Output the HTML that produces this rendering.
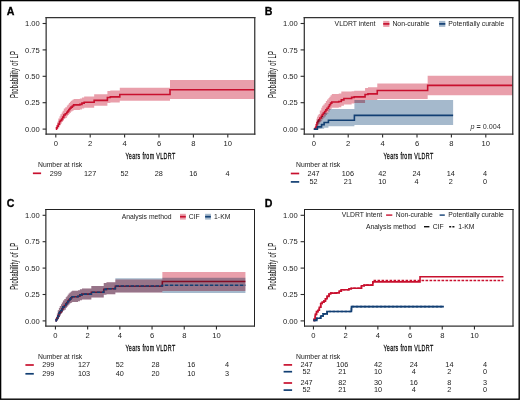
<!DOCTYPE html><html><head><meta charset="utf-8"><style>html,body{margin:0;padding:0;background:#fff;}svg{display:block;will-change:transform;}text{font-family:"Liberation Sans", sans-serif;}</style></head><body>
<svg width="520" height="400" viewBox="0 0 520 400">
<defs><clipPath id="clip0"><rect x="46.15" y="17.75" width="208.60" height="116.50"/></clipPath><clipPath id="clip1"><rect x="304.15" y="17.75" width="208.60" height="116.50"/></clipPath><clipPath id="clip2"><rect x="46.15" y="209.55" width="208.60" height="116.50"/></clipPath><clipPath id="clip3"><rect x="304.15" y="209.55" width="208.60" height="116.50"/></clipPath></defs>
<rect x="0" y="0" width="520" height="400" fill="#fff"/>
<g clip-path="url(#clip0)">
<path d="M55.80,129.10H56.49V124.88H57.35V121.71H58.29V118.54H59.50V116.22H60.44V114.32H61.70V112.52H62.68V110.73H63.80V108.61H65.26V107.14H66.81V105.45H67.84V104.39H68.87V102.91H69.90V101.64H71.00V100.80H72.31V99.74H73.60V99.00H79.88V98.48H81.94V97.42H84.18V96.58H94.16V94.25H107.40V91.08H110.32V90.45H119.78V87.70H170.01V80.10H258.76V99.11H170.01V100.80H119.78V102.49H110.32V103.02H107.40V105.66H94.16V107.66H84.18V108.40H81.94V109.56H79.88V110.09H73.60V110.83H72.31V111.57H71.00V112.73H69.90V113.79H68.87V114.95H67.84V116.22H66.81V117.91H65.26V119.07H63.80V120.65H62.68V121.92H61.70V123.82H60.44V125.40H59.50V127.52H58.29V128.57H57.35V129.10H56.49V129.10H55.80Z" fill="#c8102e" fill-opacity="0.40"/>
<path d="M55.80,129.10H56.49V127.83H57.35V126.14H58.29V124.14H59.50V121.50H60.44V120.34H61.70V118.96H62.68V117.17H63.80V115.06H65.26V113.68H66.81V112.20H67.84V110.94H68.87V109.56H69.90V108.30H71.00V107.14H72.31V105.97H73.60V104.92H79.88V104.39H81.94V103.12H84.18V102.28H94.16V100.38H107.40V97.53H110.32V96.89H119.78V94.46H170.01V89.71H258.76" fill="none" stroke="#c8102e" stroke-width="1.6"/>
</g>
<g transform="translate(0.00,0.00)">
<text x="6.7" y="14.9" font-size="10.6" font-weight="bold" fill="#000" stroke="#000" stroke-width="0.3">A</text>
<line x1="46.15" x2="46.15" y1="17.07" y2="134.82" stroke="#333" stroke-width="1.25"/>
<line x1="254.75" x2="254.75" y1="17.07" y2="134.82" stroke="#333" stroke-width="1.25"/>
<line x1="45.52" x2="255.38" y1="17.70" y2="17.70" stroke="#333" stroke-width="1.25"/>
<line x1="45.52" x2="255.38" y1="134.20" y2="134.20" stroke="#333" stroke-width="1.25"/>
<line x1="42.6" x2="46.15" y1="129.10" y2="129.10" stroke="#2b2b2b" stroke-width="1.1"/>
<text x="39.70" y="131.80" font-size="7.60" text-anchor="end" fill="#222" >0.00</text>
<line x1="42.6" x2="46.15" y1="102.70" y2="102.70" stroke="#2b2b2b" stroke-width="1.1"/>
<text x="39.70" y="105.40" font-size="7.60" text-anchor="end" fill="#222" >0.25</text>
<line x1="42.6" x2="46.15" y1="76.30" y2="76.30" stroke="#2b2b2b" stroke-width="1.1"/>
<text x="39.70" y="79.00" font-size="7.60" text-anchor="end" fill="#222" >0.50</text>
<line x1="42.6" x2="46.15" y1="49.90" y2="49.90" stroke="#2b2b2b" stroke-width="1.1"/>
<text x="39.70" y="52.60" font-size="7.60" text-anchor="end" fill="#222" >0.75</text>
<line x1="42.6" x2="46.15" y1="23.50" y2="23.50" stroke="#2b2b2b" stroke-width="1.1"/>
<text x="39.70" y="26.20" font-size="7.60" text-anchor="end" fill="#222" >1.00</text>
<line x1="55.80" x2="55.80" y1="134.20" y2="137.6" stroke="#2b2b2b" stroke-width="1.1"/>
<text x="55.80" y="146.00" font-size="7.60" text-anchor="middle" fill="#222" >0</text>
<line x1="90.20" x2="90.20" y1="134.20" y2="137.6" stroke="#2b2b2b" stroke-width="1.1"/>
<text x="90.20" y="146.00" font-size="7.60" text-anchor="middle" fill="#222" >2</text>
<line x1="124.60" x2="124.60" y1="134.20" y2="137.6" stroke="#2b2b2b" stroke-width="1.1"/>
<text x="124.60" y="146.00" font-size="7.60" text-anchor="middle" fill="#222" >4</text>
<line x1="159.00" x2="159.00" y1="134.20" y2="137.6" stroke="#2b2b2b" stroke-width="1.1"/>
<text x="159.00" y="146.00" font-size="7.60" text-anchor="middle" fill="#222" >6</text>
<line x1="193.40" x2="193.40" y1="134.20" y2="137.6" stroke="#2b2b2b" stroke-width="1.1"/>
<text x="193.40" y="146.00" font-size="7.60" text-anchor="middle" fill="#222" >8</text>
<line x1="227.80" x2="227.80" y1="134.20" y2="137.6" stroke="#2b2b2b" stroke-width="1.1"/>
<text x="227.80" y="146.00" font-size="7.60" text-anchor="middle" fill="#222" >10</text>
<g transform="translate(150.45,158.7) scale(0.56,1)"><text x="0" y="0" font-size="9.6" text-anchor="middle" fill="#0a0a0a" stroke="#0a0a0a" stroke-width="0.28" letter-spacing="0.6">Years from VLDRT</text></g>
<g transform="translate(17.8,74.4) rotate(-90) scale(0.555,1)"><text x="0" y="0" font-size="10.3" text-anchor="middle" fill="#1a1a1a" stroke="#1a1a1a" stroke-width="0.12" letter-spacing="0.6">Probability of LP</text></g>
</g>
<g clip-path="url(#clip1)">
<path d="M313.80,129.10H315.18V125.93H315.66V123.82H316.38V118.86H316.96V116.74H317.76V115.37H318.67V113.89H319.82V110.41H321.26V107.77H322.23V105.87H323.36V104.39H324.64V102.91H325.86V101.12H327.04V99.53H328.45V98.05H329.45V96.68H330.55V95.31H331.81V94.04H338.74V93.41H341.32V91.51H343.90V91.51H351.64V91.30H354.22V90.77H365.06V87.92H367.98V87.18H377.27V83.48H427.66V75.77H516.76V95.31H427.66V99.00H377.27V99.95H367.98V99.95H365.06V102.91H354.22V103.44H351.64V104.39H343.90V105.66H341.32V107.24H338.74V107.66H331.81V108.72H330.55V110.09H329.45V111.68H328.45V113.47H327.04V115.06H325.86V116.43H324.64V117.70H323.36V119.17H322.23V120.65H321.26V122.24H319.82V123.82H318.67V125.19H317.76V126.46H316.96V128.04H316.38V129.10H315.66V129.10H315.18V129.10H313.80Z" fill="#c8102e" fill-opacity="0.40"/>
<path d="M313.80,129.10H315.18V128.26H315.66V127.30H316.38V124.88H316.96V122.66H317.76V121.18H318.67V119.70H319.82V118.01H321.26V116.32H322.23V114.63H323.36V112.94H324.64V111.46H325.86V109.88H327.04V108.19H328.45V106.50H329.45V104.81H330.55V103.12H331.81V102.07H338.74V101.43H341.32V99.85H343.90V98.48H351.64V97.42H354.22V96.89H365.06V94.46H367.98V93.83H377.27V90.56H427.66V85.38H516.76" fill="none" stroke="#c8102e" stroke-width="1.6"/>
<path d="M313.80,129.10H317.41V119.60H321.54V115.90H324.12V112.73H328.42V109.04H354.39V99.95H453.12V125.09H354.39V126.14H328.42V127.83H324.12V128.68H321.54V129.10H317.41V129.10H313.80Z" fill="#1d4f80" fill-opacity="0.40" style="mix-blend-mode:multiply"/>
<path d="M313.80,129.10H317.41V126.88H321.54V124.66H324.12V122.55H328.42V120.23H354.39V115.37H453.12" fill="none" stroke="#123f73" stroke-width="1.6"/>
</g>
<g transform="translate(258.00,0.00)">
<text x="6.7" y="14.9" font-size="10.6" font-weight="bold" fill="#000" stroke="#000" stroke-width="0.3">B</text>
<line x1="46.30" x2="46.30" y1="17.07" y2="134.82" stroke="#333" stroke-width="1.25"/>
<line x1="254.75" x2="254.75" y1="17.07" y2="134.82" stroke="#333" stroke-width="1.25"/>
<line x1="45.67" x2="255.38" y1="17.70" y2="17.70" stroke="#333" stroke-width="1.25"/>
<line x1="45.67" x2="255.38" y1="134.20" y2="134.20" stroke="#333" stroke-width="1.25"/>
<line x1="42.6" x2="46.30" y1="129.10" y2="129.10" stroke="#2b2b2b" stroke-width="1.1"/>
<text x="39.70" y="131.80" font-size="7.60" text-anchor="end" fill="#222" >0.00</text>
<line x1="42.6" x2="46.30" y1="102.70" y2="102.70" stroke="#2b2b2b" stroke-width="1.1"/>
<text x="39.70" y="105.40" font-size="7.60" text-anchor="end" fill="#222" >0.25</text>
<line x1="42.6" x2="46.30" y1="76.30" y2="76.30" stroke="#2b2b2b" stroke-width="1.1"/>
<text x="39.70" y="79.00" font-size="7.60" text-anchor="end" fill="#222" >0.50</text>
<line x1="42.6" x2="46.30" y1="49.90" y2="49.90" stroke="#2b2b2b" stroke-width="1.1"/>
<text x="39.70" y="52.60" font-size="7.60" text-anchor="end" fill="#222" >0.75</text>
<line x1="42.6" x2="46.30" y1="23.50" y2="23.50" stroke="#2b2b2b" stroke-width="1.1"/>
<text x="39.70" y="26.20" font-size="7.60" text-anchor="end" fill="#222" >1.00</text>
<line x1="55.80" x2="55.80" y1="134.20" y2="137.6" stroke="#2b2b2b" stroke-width="1.1"/>
<text x="55.80" y="146.00" font-size="7.60" text-anchor="middle" fill="#222" >0</text>
<line x1="90.20" x2="90.20" y1="134.20" y2="137.6" stroke="#2b2b2b" stroke-width="1.1"/>
<text x="90.20" y="146.00" font-size="7.60" text-anchor="middle" fill="#222" >2</text>
<line x1="124.60" x2="124.60" y1="134.20" y2="137.6" stroke="#2b2b2b" stroke-width="1.1"/>
<text x="124.60" y="146.00" font-size="7.60" text-anchor="middle" fill="#222" >4</text>
<line x1="159.00" x2="159.00" y1="134.20" y2="137.6" stroke="#2b2b2b" stroke-width="1.1"/>
<text x="159.00" y="146.00" font-size="7.60" text-anchor="middle" fill="#222" >6</text>
<line x1="193.40" x2="193.40" y1="134.20" y2="137.6" stroke="#2b2b2b" stroke-width="1.1"/>
<text x="193.40" y="146.00" font-size="7.60" text-anchor="middle" fill="#222" >8</text>
<line x1="227.80" x2="227.80" y1="134.20" y2="137.6" stroke="#2b2b2b" stroke-width="1.1"/>
<text x="227.80" y="146.00" font-size="7.60" text-anchor="middle" fill="#222" >10</text>
<g transform="translate(150.45,158.7) scale(0.56,1)"><text x="0" y="0" font-size="9.6" text-anchor="middle" fill="#0a0a0a" stroke="#0a0a0a" stroke-width="0.28" letter-spacing="0.6">Years from VLDRT</text></g>
<g transform="translate(17.8,74.4) rotate(-90) scale(0.555,1)"><text x="0" y="0" font-size="10.3" text-anchor="middle" fill="#1a1a1a" stroke="#1a1a1a" stroke-width="0.12" letter-spacing="0.6">Probability of LP</text></g>
</g>
<g transform="translate(258.00,0)">
<text x="76.60" y="26.20" font-size="6.85" text-anchor="start" fill="#1a1a1a" >VLDRT intent</text>
<rect x="125.2" y="20.9" width="6.2" height="6" fill="#c8102e" fill-opacity="0.40"/>
<line x1="125.2" x2="131.4" y1="23.9" y2="23.9" stroke="#c8102e" stroke-width="1.7"/>
<text x="134.40" y="26.20" font-size="6.85" text-anchor="start" fill="#1a1a1a" >Non-curable</text>
<rect x="181.1" y="20.9" width="6.2" height="6" fill="#1d4f80" fill-opacity="0.40"/>
<line x1="181.1" x2="187.3" y1="23.9" y2="23.9" stroke="#123f73" stroke-width="1.7"/>
<text x="190.30" y="26.20" font-size="6.85" text-anchor="start" fill="#1a1a1a" >Potentially curable</text>
<text x="242.8" y="128.9" font-size="7.2" text-anchor="end" fill="#333"><tspan font-style="italic">p</tspan> <tspan font-weight="bold">=</tspan> 0.004</text>
</g>
<g clip-path="url(#clip2)">
<path d="M55.45,320.90H56.09V316.68H56.90V313.51H57.78V310.34H58.91V308.02H59.80V306.12H60.97V304.32H61.89V302.53H62.94V300.41H64.31V298.94H65.75V297.25H66.72V296.19H67.69V294.71H68.65V293.44H69.68V292.60H70.91V291.54H72.11V290.80H77.99V290.28H79.92V289.22H82.02V288.38H91.35V286.05H103.75V282.88H106.49V282.25H115.34V279.50H162.35V271.90H245.43V290.91H162.35V292.60H115.34V294.29H106.49V294.82H103.75V297.46H91.35V299.46H82.02V300.20H79.92V301.36H77.99V301.89H72.11V302.63H70.91V303.37H69.68V304.53H68.65V305.59H67.69V306.75H66.72V308.02H65.75V309.71H64.31V310.87H62.94V312.45H61.89V313.72H60.97V315.62H59.80V317.20H58.91V319.32H57.78V320.37H56.90V320.90H56.09V320.90H55.45Z" fill="#c8102e" fill-opacity="0.40"/>
<path d="M55.45,320.90H56.09V319.63H56.90V317.94H57.78V315.94H58.91V313.30H59.80V312.14H60.97V310.76H61.89V308.97H62.94V306.86H64.31V305.48H65.75V304.00H66.72V302.74H67.69V301.36H68.65V300.10H69.68V298.94H70.91V297.77H72.11V296.72H77.99V296.19H79.92V294.92H82.02V294.08H91.35V292.18H103.75V289.33H106.49V288.69H115.34V286.26H162.35V281.51H245.43" fill="none" stroke="#c8102e" stroke-width="1.6"/>
<path d="M55.45,320.90H56.09V316.68H56.90V313.51H57.78V310.34H58.91V308.02H59.80V306.12H60.97V304.32H61.89V302.53H62.94V300.41H64.31V298.94H65.75V297.25H66.72V296.19H67.69V294.71H68.65V293.44H69.68V292.60H70.91V291.54H72.11V290.80H77.99V290.28H79.92V289.22H82.02V288.38H91.35V286.05H103.75V282.88H106.49V282.25H115.34V278.24H162.35V277.82H245.43V293.02H162.35V292.60H115.34V294.29H106.49V294.82H103.75V297.46H91.35V299.46H82.02V300.20H79.92V301.36H77.99V301.89H72.11V302.63H70.91V303.37H69.68V304.53H68.65V305.59H67.69V306.75H66.72V308.02H65.75V309.71H64.31V310.87H62.94V312.45H61.89V313.72H60.97V315.62H59.80V317.20H58.91V319.32H57.78V320.37H56.90V320.90H56.09V320.90H55.45Z" fill="#1d4f80" fill-opacity="0.40" style="mix-blend-mode:multiply"/>
<path d="M55.45,320.90H56.09V319.63H56.90V317.94H57.78V315.94H58.91V313.30H59.80V312.14H60.97V310.76H61.89V308.97H62.94V306.86H64.31V305.48H65.75V304.00H66.72V302.74H67.69V301.36H68.65V300.10H69.68V298.94H70.91V297.77H72.11V296.72H77.99V296.19H79.92V294.92H82.02V294.08H91.35V292.18H103.75V289.33H106.49V288.69H115.34V285.95H162.35V285.21H245.43" fill="none" stroke="#123f73" stroke-width="1.6" stroke-dasharray="3.6,1.4"/>
</g>
<g transform="translate(0.00,191.80)">
<text x="6.7" y="14.9" font-size="10.6" font-weight="bold" fill="#000" stroke="#000" stroke-width="0.3">C</text>
<line x1="45.85" x2="45.85" y1="17.20" y2="134.82" stroke="#333" stroke-width="1.25"/>
<line x1="254.50" x2="254.50" y1="17.20" y2="134.82" stroke="#222" stroke-width="1.00"/>
<line x1="45.23" x2="255.00" y1="17.70" y2="17.70" stroke="#222" stroke-width="1.00"/>
<line x1="45.23" x2="255.00" y1="134.20" y2="134.20" stroke="#333" stroke-width="1.25"/>
<line x1="42.6" x2="45.85" y1="129.10" y2="129.10" stroke="#2b2b2b" stroke-width="1.1"/>
<text x="39.70" y="131.80" font-size="7.60" text-anchor="end" fill="#222" >0.00</text>
<line x1="42.6" x2="45.85" y1="102.70" y2="102.70" stroke="#2b2b2b" stroke-width="1.1"/>
<text x="39.70" y="105.40" font-size="7.60" text-anchor="end" fill="#222" >0.25</text>
<line x1="42.6" x2="45.85" y1="76.30" y2="76.30" stroke="#2b2b2b" stroke-width="1.1"/>
<text x="39.70" y="79.00" font-size="7.60" text-anchor="end" fill="#222" >0.50</text>
<line x1="42.6" x2="45.85" y1="49.90" y2="49.90" stroke="#2b2b2b" stroke-width="1.1"/>
<text x="39.70" y="52.60" font-size="7.60" text-anchor="end" fill="#222" >0.75</text>
<line x1="42.6" x2="45.85" y1="23.50" y2="23.50" stroke="#2b2b2b" stroke-width="1.1"/>
<text x="39.70" y="26.20" font-size="7.60" text-anchor="end" fill="#222" >1.00</text>
<line x1="55.45" x2="55.45" y1="134.20" y2="137.6" stroke="#2b2b2b" stroke-width="1.1"/>
<text x="55.45" y="146.00" font-size="7.60" text-anchor="middle" fill="#222" >0</text>
<line x1="87.65" x2="87.65" y1="134.20" y2="137.6" stroke="#2b2b2b" stroke-width="1.1"/>
<text x="87.65" y="146.00" font-size="7.60" text-anchor="middle" fill="#222" >2</text>
<line x1="119.85" x2="119.85" y1="134.20" y2="137.6" stroke="#2b2b2b" stroke-width="1.1"/>
<text x="119.85" y="146.00" font-size="7.60" text-anchor="middle" fill="#222" >4</text>
<line x1="152.05" x2="152.05" y1="134.20" y2="137.6" stroke="#2b2b2b" stroke-width="1.1"/>
<text x="152.05" y="146.00" font-size="7.60" text-anchor="middle" fill="#222" >6</text>
<line x1="184.25" x2="184.25" y1="134.20" y2="137.6" stroke="#2b2b2b" stroke-width="1.1"/>
<text x="184.25" y="146.00" font-size="7.60" text-anchor="middle" fill="#222" >8</text>
<line x1="216.45" x2="216.45" y1="134.20" y2="137.6" stroke="#2b2b2b" stroke-width="1.1"/>
<text x="216.45" y="146.00" font-size="7.60" text-anchor="middle" fill="#222" >10</text>
<g transform="translate(150.45,158.7) scale(0.56,1)"><text x="0" y="0" font-size="9.6" text-anchor="middle" fill="#0a0a0a" stroke="#0a0a0a" stroke-width="0.28" letter-spacing="0.6">Years from VLDRT</text></g>
<g transform="translate(17.8,74.4) rotate(-90) scale(0.555,1)"><text x="0" y="0" font-size="10.3" text-anchor="middle" fill="#1a1a1a" stroke="#1a1a1a" stroke-width="0.12" letter-spacing="0.6">Probability of LP</text></g>
</g>
<g transform="translate(0,191.80)">
<text x="121.70" y="27.10" font-size="6.80" text-anchor="start" fill="#1a1a1a" >Analysis method</text>
<rect x="180.0" y="22.0" width="5.8" height="5.8" fill="#c8102e" fill-opacity="0.40"/>
<line x1="180.0" x2="185.8" y1="24.9" y2="24.9" stroke="#c8102e" stroke-width="1.7"/>
<text x="188.80" y="27.10" font-size="6.80" text-anchor="start" fill="#1a1a1a" >CIF</text>
<rect x="205.1" y="22.0" width="5.8" height="5.8" fill="#1d4f80" fill-opacity="0.40"/>
<line x1="205.1" x2="210.9" y1="24.9" y2="24.9" stroke="#123f73" stroke-width="1.7"/>
<text x="214.10" y="27.10" font-size="6.80" text-anchor="start" fill="#1a1a1a" >1-KM</text>
</g>
<g clip-path="url(#clip3)">
<path d="M313.45,320.40H314.12V319.20H315.25V314.40H316.45V311.60H317.90V310.20H319.30V307.30H320.70V303.50H322.15V302.10H323.85V301.10H325.50V298.80H327.15V296.40H329.05V294.00H330.70V293.10H336.80V292.73H339.21V291.15H341.30V289.78H348.87V288.72H351.28V288.19H361.43V285.76H364.16V285.13H372.86V281.86H420.03V276.68H503.43" fill="none" stroke="#c8102e" stroke-width="1.6"/>
<path d="M313.45,320.40H314.12V319.20H315.25V314.40H316.45V311.60H317.90V310.20H319.30V307.30H320.70V303.50H322.15V302.10H323.85V301.10H325.50V298.80H327.15V296.40H329.05V294.00H330.70V293.10H336.80V292.73H339.21V291.15H341.30V289.78H348.87V288.72H351.28V288.19H361.43V285.76H364.16V285.13H372.86V280.48H503.43" fill="none" stroke="#c8102e" stroke-width="1.6" stroke-dasharray="2.6,1.4"/>
<path d="M313.45,320.40H316.83V318.18H320.69V315.96H323.11V313.85H327.13V311.53H351.45V306.67H443.86" fill="none" stroke="#123f73" stroke-width="1.6"/>
<path d="M313.45,320.40H316.83V318.18H320.69V315.96H323.11V313.85H327.13V311.53H351.45V306.67H443.86" fill="none" stroke="#123f73" stroke-width="1.6" stroke-dasharray="2.6,1.4"/>
</g>
<g transform="translate(258.00,191.80)">
<text x="6.7" y="14.9" font-size="10.6" font-weight="bold" fill="#000" stroke="#000" stroke-width="0.3">D</text>
<line x1="46.50" x2="46.50" y1="17.20" y2="134.82" stroke="#222" stroke-width="1.00"/>
<line x1="255.00" x2="255.00" y1="17.20" y2="134.82" stroke="#333" stroke-width="1.25"/>
<line x1="46.00" x2="255.62" y1="17.70" y2="17.70" stroke="#222" stroke-width="1.00"/>
<line x1="46.00" x2="255.62" y1="134.20" y2="134.20" stroke="#333" stroke-width="1.25"/>
<line x1="42.6" x2="46.50" y1="129.10" y2="129.10" stroke="#2b2b2b" stroke-width="1.1"/>
<text x="39.70" y="131.80" font-size="7.60" text-anchor="end" fill="#222" >0.00</text>
<line x1="42.6" x2="46.50" y1="102.70" y2="102.70" stroke="#2b2b2b" stroke-width="1.1"/>
<text x="39.70" y="105.40" font-size="7.60" text-anchor="end" fill="#222" >0.25</text>
<line x1="42.6" x2="46.50" y1="76.30" y2="76.30" stroke="#2b2b2b" stroke-width="1.1"/>
<text x="39.70" y="79.00" font-size="7.60" text-anchor="end" fill="#222" >0.50</text>
<line x1="42.6" x2="46.50" y1="49.90" y2="49.90" stroke="#2b2b2b" stroke-width="1.1"/>
<text x="39.70" y="52.60" font-size="7.60" text-anchor="end" fill="#222" >0.75</text>
<line x1="42.6" x2="46.50" y1="23.50" y2="23.50" stroke="#2b2b2b" stroke-width="1.1"/>
<text x="39.70" y="26.20" font-size="7.60" text-anchor="end" fill="#222" >1.00</text>
<line x1="55.45" x2="55.45" y1="134.20" y2="137.6" stroke="#2b2b2b" stroke-width="1.1"/>
<text x="55.45" y="146.00" font-size="7.60" text-anchor="middle" fill="#222" >0</text>
<line x1="87.65" x2="87.65" y1="134.20" y2="137.6" stroke="#2b2b2b" stroke-width="1.1"/>
<text x="87.65" y="146.00" font-size="7.60" text-anchor="middle" fill="#222" >2</text>
<line x1="119.85" x2="119.85" y1="134.20" y2="137.6" stroke="#2b2b2b" stroke-width="1.1"/>
<text x="119.85" y="146.00" font-size="7.60" text-anchor="middle" fill="#222" >4</text>
<line x1="152.05" x2="152.05" y1="134.20" y2="137.6" stroke="#2b2b2b" stroke-width="1.1"/>
<text x="152.05" y="146.00" font-size="7.60" text-anchor="middle" fill="#222" >6</text>
<line x1="184.25" x2="184.25" y1="134.20" y2="137.6" stroke="#2b2b2b" stroke-width="1.1"/>
<text x="184.25" y="146.00" font-size="7.60" text-anchor="middle" fill="#222" >8</text>
<line x1="216.45" x2="216.45" y1="134.20" y2="137.6" stroke="#2b2b2b" stroke-width="1.1"/>
<text x="216.45" y="146.00" font-size="7.60" text-anchor="middle" fill="#222" >10</text>
<g transform="translate(150.45,158.7) scale(0.56,1)"><text x="0" y="0" font-size="9.6" text-anchor="middle" fill="#0a0a0a" stroke="#0a0a0a" stroke-width="0.28" letter-spacing="0.6">Years from VLDRT</text></g>
<g transform="translate(17.8,74.4) rotate(-90) scale(0.555,1)"><text x="0" y="0" font-size="10.3" text-anchor="middle" fill="#1a1a1a" stroke="#1a1a1a" stroke-width="0.12" letter-spacing="0.6">Probability of LP</text></g>
</g>
<g transform="translate(258.00,191.80)">
<text x="83.70" y="25.40" font-size="6.80" text-anchor="start" fill="#1a1a1a" >VLDRT intent</text>
<line x1="128.1" x2="134.3" y1="23.3" y2="23.3" stroke="#c8102e" stroke-width="1.4"/>
<text x="137.80" y="25.40" font-size="6.80" text-anchor="start" fill="#1a1a1a" >Non-curable</text>
<line x1="181.6" x2="186.8" y1="23.3" y2="23.3" stroke="#123f73" stroke-width="1.4"/>
<text x="190.30" y="25.40" font-size="6.80" text-anchor="start" fill="#1a1a1a" >Potentially curable</text>
<text x="108.00" y="37.00" font-size="6.80" text-anchor="start" fill="#1a1a1a" >Analysis method</text>
<line x1="166.0" x2="171.4" y1="34.9" y2="34.9" stroke="#111" stroke-width="1.4"/>
<text x="174.80" y="37.00" font-size="6.80" text-anchor="start" fill="#1a1a1a" >CIF</text>
<line x1="191.2" x2="196.4" y1="34.9" y2="34.9" stroke="#111" stroke-width="1.4" stroke-dasharray="2,1.2"/>
<text x="200.30" y="37.00" font-size="6.80" text-anchor="start" fill="#1a1a1a" >1-KM</text>
</g>
<text x="38.00" y="166.90" font-size="6.80" text-anchor="start" fill="#1a1a1a" >Number at risk</text>
<line x1="32.90" x2="41.10" y1="173.30" y2="173.30" stroke="#c8102e" stroke-width="1.7"/>
<text x="55.80" y="175.50" font-size="7.30" text-anchor="middle" fill="#222" >299</text>
<text x="90.15" y="175.50" font-size="7.30" text-anchor="middle" fill="#222" >127</text>
<text x="124.50" y="175.50" font-size="7.30" text-anchor="middle" fill="#222" >52</text>
<text x="158.85" y="175.50" font-size="7.30" text-anchor="middle" fill="#222" >28</text>
<text x="193.20" y="175.50" font-size="7.30" text-anchor="middle" fill="#222" >16</text>
<text x="227.55" y="175.50" font-size="7.30" text-anchor="middle" fill="#222" >4</text>
<text x="296.00" y="166.90" font-size="6.80" text-anchor="start" fill="#1a1a1a" >Number at risk</text>
<line x1="290.80" x2="299.20" y1="173.50" y2="173.50" stroke="#c8102e" stroke-width="1.7"/>
<text x="313.60" y="175.70" font-size="7.30" text-anchor="middle" fill="#222" >247</text>
<text x="347.90" y="175.70" font-size="7.30" text-anchor="middle" fill="#222" >106</text>
<text x="382.20" y="175.70" font-size="7.30" text-anchor="middle" fill="#222" >42</text>
<text x="416.50" y="175.70" font-size="7.30" text-anchor="middle" fill="#222" >24</text>
<text x="450.80" y="175.70" font-size="7.30" text-anchor="middle" fill="#222" >14</text>
<text x="485.10" y="175.70" font-size="7.30" text-anchor="middle" fill="#222" >4</text>
<line x1="290.80" x2="299.20" y1="181.90" y2="181.90" stroke="#123f73" stroke-width="1.7"/>
<text x="313.60" y="184.10" font-size="7.30" text-anchor="middle" fill="#222" >52</text>
<text x="347.90" y="184.10" font-size="7.30" text-anchor="middle" fill="#222" >21</text>
<text x="382.20" y="184.10" font-size="7.30" text-anchor="middle" fill="#222" >10</text>
<text x="416.50" y="184.10" font-size="7.30" text-anchor="middle" fill="#222" >4</text>
<text x="450.80" y="184.10" font-size="7.30" text-anchor="middle" fill="#222" >2</text>
<text x="485.10" y="184.10" font-size="7.30" text-anchor="middle" fill="#222" >0</text>
<text x="38.00" y="358.70" font-size="6.80" text-anchor="start" fill="#1a1a1a" >Number at risk</text>
<line x1="25.40" x2="33.80" y1="365.00" y2="365.00" stroke="#c8102e" stroke-width="1.7"/>
<text x="48.30" y="367.20" font-size="7.30" text-anchor="middle" fill="#222" >299</text>
<text x="84.05" y="367.20" font-size="7.30" text-anchor="middle" fill="#222" >127</text>
<text x="119.80" y="367.20" font-size="7.30" text-anchor="middle" fill="#222" >52</text>
<text x="155.55" y="367.20" font-size="7.30" text-anchor="middle" fill="#222" >28</text>
<text x="191.30" y="367.20" font-size="7.30" text-anchor="middle" fill="#222" >16</text>
<text x="227.05" y="367.20" font-size="7.30" text-anchor="middle" fill="#222" >4</text>
<line x1="25.40" x2="33.80" y1="373.80" y2="373.80" stroke="#123f73" stroke-width="1.7"/>
<text x="48.30" y="376.00" font-size="7.30" text-anchor="middle" fill="#222" >299</text>
<text x="84.05" y="376.00" font-size="7.30" text-anchor="middle" fill="#222" >103</text>
<text x="119.80" y="376.00" font-size="7.30" text-anchor="middle" fill="#222" >40</text>
<text x="155.55" y="376.00" font-size="7.30" text-anchor="middle" fill="#222" >20</text>
<text x="191.30" y="376.00" font-size="7.30" text-anchor="middle" fill="#222" >10</text>
<text x="227.05" y="376.00" font-size="7.30" text-anchor="middle" fill="#222" >3</text>
<text x="296.00" y="358.50" font-size="6.80" text-anchor="start" fill="#1a1a1a" >Number at risk</text>
<line x1="283.60" x2="292.10" y1="364.90" y2="364.90" stroke="#c8102e" stroke-width="1.7"/>
<text x="306.60" y="367.10" font-size="7.30" text-anchor="middle" fill="#222" >247</text>
<text x="342.30" y="367.10" font-size="7.30" text-anchor="middle" fill="#222" >106</text>
<text x="378.00" y="367.10" font-size="7.30" text-anchor="middle" fill="#222" >42</text>
<text x="413.70" y="367.10" font-size="7.30" text-anchor="middle" fill="#222" >24</text>
<text x="449.40" y="367.10" font-size="7.30" text-anchor="middle" fill="#222" >14</text>
<text x="485.10" y="367.10" font-size="7.30" text-anchor="middle" fill="#222" >4</text>
<line x1="283.60" x2="292.10" y1="371.70" y2="371.70" stroke="#123f73" stroke-width="1.7"/>
<text x="306.60" y="373.90" font-size="7.30" text-anchor="middle" fill="#222" >52</text>
<text x="342.30" y="373.90" font-size="7.30" text-anchor="middle" fill="#222" >21</text>
<text x="378.00" y="373.90" font-size="7.30" text-anchor="middle" fill="#222" >10</text>
<text x="413.70" y="373.90" font-size="7.30" text-anchor="middle" fill="#222" >4</text>
<text x="449.40" y="373.90" font-size="7.30" text-anchor="middle" fill="#222" >2</text>
<text x="485.10" y="373.90" font-size="7.30" text-anchor="middle" fill="#222" >0</text>
<line x1="283.60" x2="292.10" y1="383.00" y2="383.00" stroke="#c8102e" stroke-width="1.7"/>
<text x="306.60" y="385.20" font-size="7.30" text-anchor="middle" fill="#222" >247</text>
<text x="342.30" y="385.20" font-size="7.30" text-anchor="middle" fill="#222" >82</text>
<text x="378.00" y="385.20" font-size="7.30" text-anchor="middle" fill="#222" >30</text>
<text x="413.70" y="385.20" font-size="7.30" text-anchor="middle" fill="#222" >16</text>
<text x="449.40" y="385.20" font-size="7.30" text-anchor="middle" fill="#222" >8</text>
<text x="485.10" y="385.20" font-size="7.30" text-anchor="middle" fill="#222" >3</text>
<line x1="283.60" x2="292.10" y1="390.10" y2="390.10" stroke="#123f73" stroke-width="1.7"/>
<text x="306.60" y="392.30" font-size="7.30" text-anchor="middle" fill="#222" >52</text>
<text x="342.30" y="392.30" font-size="7.30" text-anchor="middle" fill="#222" >21</text>
<text x="378.00" y="392.30" font-size="7.30" text-anchor="middle" fill="#222" >10</text>
<text x="413.70" y="392.30" font-size="7.30" text-anchor="middle" fill="#222" >4</text>
<text x="449.40" y="392.30" font-size="7.30" text-anchor="middle" fill="#222" >2</text>
<text x="485.10" y="392.30" font-size="7.30" text-anchor="middle" fill="#222" >0</text>
<rect x="0.6" y="0.6" width="518.6" height="398.6" fill="none" stroke="#000" stroke-width="1.4"/>
</svg></body></html>
